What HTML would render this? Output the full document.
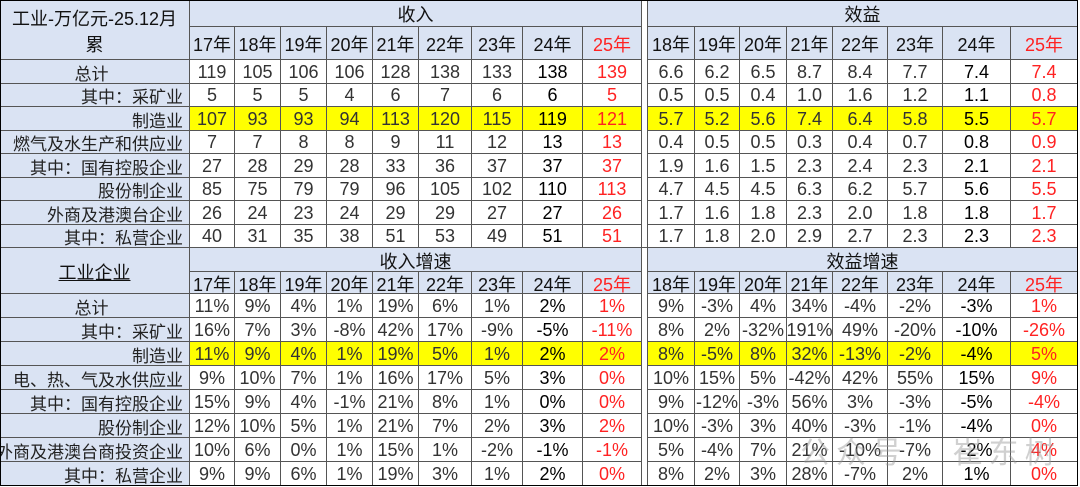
<!DOCTYPE html>
<html><head><meta charset="utf-8"><style>
body{margin:0;width:1080px;height:486px;background:#fff;overflow:hidden;position:relative;font-family:"Liberation Sans","Noto Sans CJK SC",sans-serif}
.c{position:absolute;box-sizing:border-box;border-right:1px solid #555;border-bottom:1px solid #555;display:flex;align-items:center;justify-content:center;font-size:18px;color:#333;white-space:nowrap;padding-top:2px}
.h{background:#dae3f3;color:#111}
.y{background:#ffff00}
.r{color:#f22}
.k{color:#000}
.lab{background:#dae3f3;color:#222;justify-content:flex-end;padding-right:6px;font-size:17px;overflow:visible}
#wm{position:absolute;left:800px;top:428px;font-size:30px;color:rgba(150,150,150,0.45);letter-spacing:6px}
</style></head><body>
<script>
const incYears=["17年","18年","19年","20年","21年","22年","23年","24年","25年"];
const benYears=["18年","19年","20年","21年","22年","23年","24年","25年"];
const labels1=["总计","其中：采矿业","制造业","燃气及水生产和供应业","其中：国有控股企业","股份制企业","外商及港澳台企业","其中：私营企业"];
const labels2=["总计","其中：采矿业","制造业","电、热、气及水供应业","其中：国有控股企业","股份制企业","外商及港澳台商投资企业","其中：私营企业"];
const income=[[119,105,106,106,128,138,133,138,139],[5,5,5,4,6,7,6,6,5],[107,93,93,94,113,120,115,119,121],[7,7,8,8,9,11,12,13,13],[27,28,29,28,33,36,37,37,37],[85,75,79,79,96,105,102,110,113],[26,24,23,24,29,29,27,27,26],[40,31,35,38,51,53,49,51,51]];
const benefit=[["6.6","6.2","6.5","8.7","8.4","7.7","7.4","7.4"],["0.5","0.5","0.4","1.0","1.6","1.2","1.1","0.8"],["5.7","5.2","5.6","7.4","6.4","5.8","5.5","5.7"],["0.4","0.5","0.5","0.3","0.4","0.7","0.8","0.9"],["1.9","1.6","1.5","2.3","2.4","2.3","2.1","2.1"],["4.7","4.5","4.5","6.3","6.2","5.7","5.6","5.5"],["1.7","1.6","1.8","2.3","2.0","1.8","1.8","1.7"],["1.7","1.8","2.0","2.9","2.7","2.3","2.3","2.3"]];
const incGrowth=[[11,9,4,1,19,6,1,2,1],[16,7,3,-8,42,17,-9,-5,-11],[11,9,4,1,19,5,1,2,2],[9,10,7,1,16,17,5,3,0],[15,9,4,-1,21,8,1,0,0],[12,10,5,1,21,7,2,3,2],[10,6,0,1,15,1,-2,-1,-1],[9,9,6,1,19,3,1,2,0]];
const benGrowth=[[9,-3,4,34,-4,-2,-3,1],[8,2,-32,191,49,-20,-10,-26],[8,-5,8,32,-13,-2,-4,5],[10,15,5,-42,42,55,15,9],[9,-12,-3,56,3,-3,-5,-4],[10,-3,3,40,-3,-1,-4,0],[5,-4,7,21,-10,-7,-2,4],[8,2,3,28,-7,2,1,0]];
const incX=[190,235,281,327,373,419,472,523,583,642];
const benX=[648,695,740,787,833,888,943,1011,1078];
function cell(x,y,w,h,t,cls,name){const d=document.createElement('div');d.className='c '+(cls||'');d.style.left=x+'px';d.style.top=y+'px';d.style.width=w+'px';d.style.height=h+'px';d.textContent=t;


document.body.appendChild(d);return d;}
function section(y0,hA,hB,rh,first,incT,benT,labels,A,B,fmtA,fmtB){
  const lc=cell(0,y0,190,hA+hB,'','h','section-title');lc.style.fontSize='18px';
  if(first){lc.innerHTML='工业-万亿元-25.12月<br>累';lc.style.display='block';lc.style.lineHeight='26px';lc.style.textAlign='center';lc.style.paddingTop='6px';}else{lc.textContent='工业企业';lc.style.textDecoration='underline';}
  cell(190,y0,452,hA,incT,'h','income-group-header');
  cell(642,y0,6,hA+hB+rh*8,'','','separator');
  cell(648,y0,430,hA,benT,'h','benefit-group-header');
  incYears.forEach((t,i)=>{cell(incX[i],y0+hA,incX[i+1]-incX[i],hB,t,'h'+(i==8?' r':''),'income-year-header');});
  benYears.forEach((t,i)=>{cell(benX[i],y0+hA,benX[i+1]-benX[i],hB,t,'h'+(i==7?' r':''),'benefit-year-header');});
  labels.forEach((l,r)=>{const y=y0+hA+hB+r*rh;
    const lab=cell(0,y,190,rh,l,'lab','row-label');if(r==0){lab.style.justifyContent='center';}
    A[r].forEach((v,i)=>{cell(incX[i],y,incX[i+1]-incX[i],rh,fmtA(v),(r==2?'y ':'')+(i==8?'r':i==7?'k':''),'income-value');});
    B[r].forEach((v,i)=>{cell(benX[i],y,benX[i+1]-benX[i],rh,fmtB(v),(r==2?'y ':'')+(i==7?'r':i==6?'k':''),'benefit-value');});
  });
}
const id=v=>String(v), pct=v=>v+'%';
section(0,27,33,23.5,true,'收入','效益',labels1,income,benefit,id,id);
section(248,24,22,24,false,'收入增速','效益增速',labels2,incGrowth,benGrowth,pct,pct);
const f=document.createElement('div');f.style.cssText='position:absolute;left:0;top:0;width:1078px;height:486px;border:1px solid #000;box-sizing:border-box;pointer-events:none';


document.body.appendChild(f);
const wm=document.createElement('div');wm.id='wm';wm.textContent='公众号 · 崔东树';


document.body.appendChild(wm);
</script>
</body></html>
